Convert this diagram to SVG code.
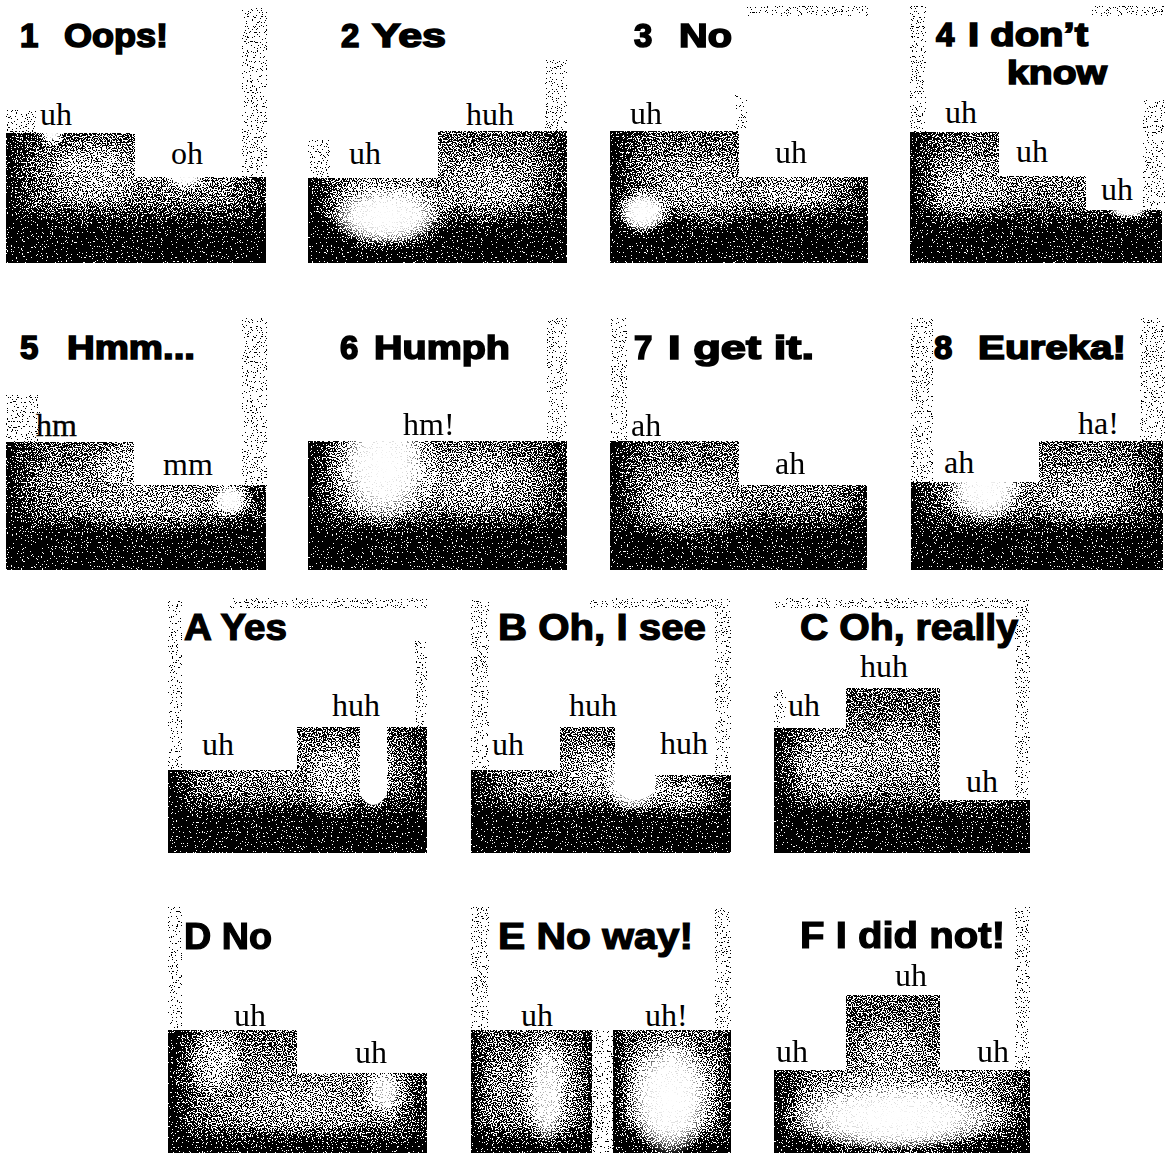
<svg xmlns="http://www.w3.org/2000/svg" width="1165" height="1153" viewBox="0 0 1165 1153">
<style>
.t{font-family:"Liberation Sans",Arial,sans-serif;font-weight:bold;font-size:33px;fill:#000;stroke:#000;stroke-width:1.6px}
.tc{font-family:"Liberation Sans",Arial,sans-serif;font-weight:bold;font-size:36px;fill:#000;stroke:#000;stroke-width:1.2px}
.l{font-family:"Liberation Serif","Times New Roman",serif;font-size:32px;fill:#000}
.b{fill:url(#shade)}
.b2{fill:url(#shade2)}
.e{fill:url(#edges)}
.s{fill:#eaeaea}
.g{fill:url(#glow)}
</style>
<defs>
<filter id="grain" x="0" y="0" width="1" height="1" color-interpolation-filters="sRGB">
<feTurbulence type="fractalNoise" baseFrequency="0.8" numOctaves="1" seed="7" result="n"/>
<feColorMatrix in="n" type="matrix" values="1 0 0 0 0 1 0 0 0 0 1 0 0 0 0 0 0 0 0 1" result="g"/>
<feComposite in="SourceGraphic" in2="g" operator="arithmetic" k1="0" k2="1" k3="3" k4="-1.5" result="m"/>
<feComponentTransfer in="m" result="d">
<feFuncR type="discrete" tableValues="0 1"/>
<feFuncG type="discrete" tableValues="0 1"/>
<feFuncB type="discrete" tableValues="0 1"/>
</feComponentTransfer>
<feComposite in="d" in2="SourceAlpha" operator="in"/>
</filter>
<linearGradient id="shade" x1="0" y1="0" x2="0" y2="1">
<stop offset="0" stop-color="#666"/>
<stop offset="0.28" stop-color="#8c8c8c"/>
<stop offset="0.52" stop-color="#7c7c7c"/>
<stop offset="0.64" stop-color="#3c3c3c"/>
<stop offset="0.73" stop-color="#080808"/>
<stop offset="1" stop-color="#000"/>
</linearGradient>
<linearGradient id="shade2" x1="0" y1="0" x2="0" y2="1">
<stop offset="0" stop-color="#6a6a6a"/>
<stop offset="0.4" stop-color="#8e8e8e"/>
<stop offset="0.76" stop-color="#7a7a7a"/>
<stop offset="0.9" stop-color="#2a2a2a"/>
<stop offset="1" stop-color="#000"/>
</linearGradient>
<linearGradient id="edges" x1="0" y1="0" x2="1" y2="0">
<stop offset="0" stop-color="#000" stop-opacity="0.95"/>
<stop offset="0.04" stop-color="#000" stop-opacity="0.6"/>
<stop offset="0.12" stop-color="#000" stop-opacity="0.15"/>
<stop offset="0.2" stop-color="#000" stop-opacity="0"/>
<stop offset="0.85" stop-color="#000" stop-opacity="0"/>
<stop offset="0.95" stop-color="#000" stop-opacity="0.35"/>
<stop offset="1" stop-color="#000" stop-opacity="0.65"/>
</linearGradient>
<radialGradient id="spot">
<stop offset="0" stop-color="#fff" stop-opacity="1"/>
<stop offset="0.5" stop-color="#fff" stop-opacity="0.75"/>
<stop offset="1" stop-color="#fff" stop-opacity="0"/>
</radialGradient>
<radialGradient id="glow">
<stop offset="0" stop-color="#fff" stop-opacity="1"/>
<stop offset="0.55" stop-color="#fff" stop-opacity="0.85"/>
<stop offset="1" stop-color="#fff" stop-opacity="0"/>
</radialGradient>
<clipPath id="c1"><path d="M6,133H135V177H266V263H6Z"/></clipPath>
<clipPath id="c2"><path d="M308,178H438V131H567V263H308Z"/></clipPath>
<clipPath id="c3"><path d="M610,131H739V177H868V263H610Z"/></clipPath>
<clipPath id="c4"><path d="M910,132H999V176H1086V210H1162V263H910Z"/></clipPath>
<clipPath id="c5"><path d="M6,442H134V485H266V570H6Z"/></clipPath>
<clipPath id="c6"><path d="M308,441H567V570H308Z"/></clipPath>
<clipPath id="c7"><path d="M610,441H739V485H867V570H610Z"/></clipPath>
<clipPath id="c8"><path d="M911,482H1039V441H1163V570H911Z"/></clipPath>
<clipPath id="cA"><path d="M168,770H297V727H360V795Q373,815 387,795V727H427V853H168Z"/></clipPath>
<clipPath id="cB"><path d="M471,770H560V727H615V790Q634,810 655,792V775H731V853H471Z"/></clipPath>
<clipPath id="cC"><path d="M774,728H846V688H940V800H1030V853H774Z"/></clipPath>
<clipPath id="cD"><path d="M168,1030H297V1073H427V1153H168Z"/></clipPath>
<clipPath id="cE"><path d="M471,1030H592V1153H471ZM613,1030H731V1153H613Z"/></clipPath>
<clipPath id="cF"><path d="M774,1070H846V995H940V1070H1030V1153H774Z"/></clipPath>
</defs>
<rect width="1165" height="1153" fill="#fff"/>

<g id="panel-1">
<g filter="url(#grain)">
<rect class="s" x="242" y="8" width="25" height="170"/>
<rect class="s" x="6" y="110" width="30" height="23"/>
<g clip-path="url(#c1)">
<rect class="b" x="6" y="133" width="260" height="130"/>
<rect class="e" x="6" y="133" width="260" height="130"/>
<ellipse fill="url(#spot)" opacity="0.45" cx="95" cy="172" rx="48" ry="38"/>
<ellipse fill="url(#spot)" opacity="0.85" cx="186" cy="180" rx="22" ry="11"/>
<ellipse fill="url(#spot)" opacity="0.85" cx="52" cy="136" rx="14" ry="10"/>
</g>
</g>
<g clip-path="url(#c1)">
<ellipse class="g" cx="186" cy="178" rx="16" ry="8"/>
<ellipse class="g" cx="52" cy="134" rx="9" ry="7"/>
</g>
<text class="t"><tspan x="20" y="47">1 </tspan><tspan x="64" y="47" textLength="104" lengthAdjust="spacingAndGlyphs">Oops!</tspan></text>
<text class="l" x="40" y="125">uh</text>
<text class="l" x="171" y="164">oh</text>
</g>

<g id="panel-2">
<g filter="url(#grain)">
<rect class="s" x="545" y="60" width="22" height="72"/>
<rect class="s" x="308" y="140" width="22" height="38"/>
<g clip-path="url(#c2)">
<rect class="b" x="308" y="131" width="259" height="132"/>
<rect class="e" x="308" y="131" width="259" height="132"/>
<ellipse fill="url(#spot)" cx="388" cy="214" rx="68" ry="40"/>
<ellipse fill="url(#spot)" opacity="0.3" cx="485" cy="195" rx="50" ry="40"/>
</g>
</g>
<g clip-path="url(#c2)">
<ellipse class="g" cx="386" cy="216" rx="54" ry="28"/>
</g>
<text class="t"><tspan x="341" y="47">2 </tspan><tspan x="372" y="47" textLength="74" lengthAdjust="spacingAndGlyphs">Yes</tspan></text>
<text class="l" x="349" y="164">uh</text>
<text class="l" x="466" y="125">huh</text>
</g>

<g id="panel-3">
<g filter="url(#grain)">
<rect class="s" x="745" y="6" width="123" height="10"/>
<rect class="s" x="735" y="95" width="12" height="36"/>
<g clip-path="url(#c3)">
<rect class="b" x="610" y="131" width="258" height="132"/>
<rect class="e" x="610" y="131" width="258" height="132"/>
<ellipse fill="url(#spot)" opacity="0.95" cx="643" cy="212" rx="30" ry="26"/>
<ellipse fill="url(#spot)" opacity="0.3" cx="705" cy="198" rx="55" ry="40"/>
<ellipse fill="url(#spot)" opacity="0.35" cx="790" cy="195" rx="45" ry="20"/>
</g>
</g>
<g clip-path="url(#c3)">
<ellipse class="g" cx="643" cy="212" rx="22" ry="19"/>
</g>
<text class="t"><tspan x="634" y="47">3 </tspan><tspan x="679" y="47" textLength="53" lengthAdjust="spacingAndGlyphs">No</tspan></text>
<text class="l" x="630" y="124">uh</text>
<text class="l" x="775" y="163">uh</text>
</g>

<g id="panel-4">
<g filter="url(#grain)">
<rect class="s" x="910" y="6" width="16" height="126"/>
<rect class="s" x="1090" y="6" width="75" height="10"/>
<rect class="s" x="1143" y="100" width="22" height="110"/>
<g clip-path="url(#c4)">
<rect class="b" x="910" y="132" width="252" height="131"/>
<rect class="e" x="910" y="132" width="252" height="131"/>
<ellipse fill="url(#spot)" opacity="0.3" cx="965" cy="192" rx="50" ry="40"/>
<ellipse fill="url(#spot)" opacity="0.6" cx="1130" cy="213" rx="25" ry="8"/>
</g>
</g>
<g clip-path="url(#c4)">
<ellipse class="g" cx="1128" cy="211" rx="18" ry="6"/>
</g>
<text class="t"><tspan x="936" y="46">4 </tspan><tspan x="968" y="46" textLength="120" lengthAdjust="spacingAndGlyphs">I don’t</tspan></text>
<text class="t" x="1007" y="84" textLength="100" lengthAdjust="spacingAndGlyphs">know</text>
<text class="l" x="945" y="123">uh</text>
<text class="l" x="1016" y="162">uh</text>
<text class="l" x="1101" y="200">uh</text>
</g>

<g id="panel-5">
<g filter="url(#grain)">
<rect class="s" x="242" y="318" width="25" height="168"/>
<rect class="s" x="6" y="395" width="34" height="47"/>
<g clip-path="url(#c5)">
<rect class="b" x="6" y="442" width="260" height="128"/>
<rect class="e" x="6" y="442" width="260" height="128"/>
<ellipse fill="url(#spot)" opacity="0.95" cx="230" cy="500" rx="22" ry="20"/>
<ellipse fill="url(#spot)" opacity="0.5" cx="128" cy="466" rx="40" ry="28"/>
<ellipse fill="url(#spot)" opacity="0.3" cx="150" cy="508" rx="85" ry="30"/>
</g>
</g>
<g clip-path="url(#c5)">
<ellipse class="g" cx="230" cy="500" rx="15" ry="14"/>
</g>
<text class="t"><tspan x="20" y="359">5 </tspan><tspan x="67" y="359" textLength="128" lengthAdjust="spacingAndGlyphs">Hmm...</tspan></text>
<text class="l" x="36" y="436" stroke="#000" stroke-width="0.4">hm</text>
<text class="l" x="163" y="475">mm</text>
</g>

<g id="panel-6">
<g filter="url(#grain)">
<rect class="s" x="547" y="318" width="20" height="123"/>
<g clip-path="url(#c6)">
<rect class="b" x="308" y="441" width="259" height="129"/>
<rect class="e" x="308" y="441" width="259" height="129"/>
<ellipse fill="url(#spot)" cx="384" cy="465" rx="60" ry="68"/>
<ellipse fill="url(#spot)" opacity="0.3" cx="470" cy="480" rx="60" ry="40"/>
</g>
</g>
<g clip-path="url(#c6)">
<ellipse class="g" cx="384" cy="465" rx="42" ry="56"/>
</g>
<text class="t"><tspan x="340" y="359">6 </tspan><tspan x="374" y="359" textLength="136" lengthAdjust="spacingAndGlyphs">Humph</tspan></text>
<text class="l" x="403" y="435">hm!</text>
</g>

<g id="panel-7">
<g filter="url(#grain)">
<rect class="s" x="611" y="318" width="16" height="123"/>
<g clip-path="url(#c7)">
<rect class="b" x="610" y="441" width="257" height="129"/>
<rect class="e" x="610" y="441" width="257" height="129"/>
<ellipse fill="url(#spot)" opacity="0.35" cx="690" cy="512" rx="60" ry="40"/>
</g>
</g>
<text class="t"><tspan x="634" y="359">7 </tspan><tspan x="668" y="359" textLength="146" lengthAdjust="spacingAndGlyphs">I get it.</tspan></text>
<text class="l" x="631" y="436">ah</text>
<text class="l" x="775" y="474">ah</text>
</g>

<g id="panel-8">
<g filter="url(#grain)">
<rect class="s" x="911" y="318" width="22" height="164"/>
<rect class="s" x="1140" y="318" width="25" height="123"/>
<g clip-path="url(#c8)">
<rect class="b" x="911" y="441" width="252" height="129"/>
<rect class="e" x="911" y="441" width="252" height="129"/>
<ellipse fill="url(#spot)" cx="985" cy="490" rx="42" ry="36"/>
<ellipse fill="url(#spot)" opacity="0.3" cx="1080" cy="500" rx="50" ry="30"/>
</g>
</g>
<g clip-path="url(#c8)">
<ellipse class="g" cx="985" cy="488" rx="34" ry="32"/>
</g>
<text class="t"><tspan x="934" y="359">8 </tspan><tspan x="978" y="359" textLength="148" lengthAdjust="spacingAndGlyphs">Eureka!</tspan></text>
<text class="l" x="944" y="473">ah</text>
<text class="l" x="1078" y="434">ha!</text>
</g>

<g id="panel-A">
<g filter="url(#grain)">
<rect class="s" x="168" y="600" width="14" height="170"/>
<rect class="s" x="230" y="598" width="197" height="10"/>
<rect class="s" x="415" y="640" width="12" height="87"/>
<g clip-path="url(#cA)">
<rect class="b" x="168" y="727" width="259" height="126"/>
<rect class="e" x="168" y="727" width="259" height="126"/>
<ellipse fill="url(#spot)" cx="374" cy="768" rx="18" ry="48"/>
<ellipse fill="url(#spot)" opacity="0.45" cx="335" cy="780" rx="30" ry="45"/>
</g>
</g>
<g clip-path="url(#cA)">
<ellipse class="g" cx="374" cy="765" rx="13" ry="42"/>
</g>
<text class="tc" x="184" y="640" textLength="103" lengthAdjust="spacingAndGlyphs">A Yes</text>
<text class="l" x="332" y="716">huh</text>
<text class="l" x="202" y="755">uh</text>
</g>

<g id="panel-B">
<g filter="url(#grain)">
<rect class="s" x="471" y="600" width="18" height="170"/>
<rect class="s" x="715" y="600" width="16" height="175"/>
<rect class="s" x="590" y="598" width="141" height="10"/>
<g clip-path="url(#cB)">
<rect class="b" x="471" y="727" width="260" height="126"/>
<rect class="e" x="471" y="727" width="260" height="126"/>
<ellipse fill="url(#spot)" cx="634" cy="782" rx="34" ry="36"/>
<ellipse fill="url(#spot)" opacity="0.3" cx="592" cy="775" rx="40" ry="35"/>
<ellipse fill="url(#spot)" opacity="0.4" cx="685" cy="800" rx="40" ry="20"/>
</g>
</g>
<g clip-path="url(#cB)">
<ellipse class="g" cx="633" cy="782" rx="26" ry="28"/>
</g>
<text class="tc" x="498" y="640" textLength="208" lengthAdjust="spacingAndGlyphs">B Oh, I see</text>
<text class="l" x="569" y="716">huh</text>
<text class="l" x="492" y="755">uh</text>
<text class="l" x="660" y="754">huh</text>
</g>

<g id="panel-C">
<g filter="url(#grain)">
<rect class="s" x="1015" y="600" width="15" height="200"/>
<rect class="s" x="774" y="598" width="241" height="10"/>
<rect class="s" x="774" y="690" width="12" height="38"/>
<g clip-path="url(#cC)">
<rect fill="#666" x="774" y="688" width="256" height="36"/>
<rect class="b" x="774" y="723" width="256" height="130"/>
<rect class="e" x="774" y="688" width="256" height="165"/>
<ellipse fill="url(#spot)" opacity="0.3" cx="832" cy="760" rx="60" ry="50"/>
<ellipse fill="url(#spot)" opacity="0.25" cx="900" cy="745" rx="40" ry="40"/>
</g>
</g>
<text class="tc" x="800" y="640" textLength="218" lengthAdjust="spacingAndGlyphs">C Oh, really</text>
<text class="l" x="860" y="677">huh</text>
<text class="l" x="788" y="716">uh</text>
<text class="l" x="966" y="792">uh</text>
</g>

<g id="panel-D">
<g filter="url(#grain)">
<rect class="s" x="168" y="907" width="14" height="123"/>
<g clip-path="url(#cD)">
<rect class="b2" x="168" y="1030" width="259" height="123"/>
<rect class="e" x="168" y="1030" width="259" height="123"/>
<ellipse fill="url(#spot)" opacity="0.6" cx="215" cy="1060" rx="30" ry="40"/>
<ellipse fill="url(#spot)" opacity="0.75" cx="385" cy="1092" rx="26" ry="30"/>
<ellipse fill="url(#spot)" opacity="0.3" cx="300" cy="1110" rx="80" ry="30"/>
</g>
</g>
<g clip-path="url(#cD)">
<ellipse class="g" opacity="0.7" cx="385" cy="1092" rx="15" ry="20"/>
</g>
<text class="tc" x="184" y="949" textLength="88" lengthAdjust="spacingAndGlyphs">D No</text>
<text class="l" x="234" y="1026">uh</text>
<text class="l" x="355" y="1063">uh</text>
</g>

<g id="panel-E">
<g filter="url(#grain)">
<rect class="s" x="471" y="907" width="18" height="123"/>
<rect class="s" x="715" y="907" width="16" height="123"/>
<rect class="s" x="592" y="1030" width="21" height="123"/>
<g clip-path="url(#cE)">
<rect class="b2" x="471" y="1030" width="121" height="123"/>
<rect class="b2" x="613" y="1030" width="118" height="123"/>
<rect class="e" x="471" y="1030" width="121" height="123"/>
<rect class="e" x="613" y="1030" width="118" height="123"/>
<ellipse fill="url(#spot)" opacity="0.85" cx="547" cy="1090" rx="28" ry="62"/>
<ellipse fill="url(#spot)" cx="670" cy="1095" rx="48" ry="68"/>
</g>
</g>
<g clip-path="url(#cE)">
<ellipse class="g" cx="670" cy="1098" rx="40" ry="58"/>
<ellipse class="g" opacity="0.75" cx="547" cy="1095" rx="17" ry="48"/>
</g>
<text class="tc" x="498" y="949" textLength="195" lengthAdjust="spacingAndGlyphs">E No way!</text>
<text class="l" x="521" y="1026">uh</text>
<text class="l" x="645" y="1026">uh!</text>
</g>

<g id="panel-F">
<g filter="url(#grain)">
<rect class="s" x="1015" y="907" width="15" height="163"/>
<g clip-path="url(#cF)">
<rect fill="#6a6a6a" x="774" y="995" width="256" height="36"/>
<rect class="b2" x="774" y="1030" width="256" height="123"/>
<rect class="e" x="774" y="995" width="256" height="158"/>
<ellipse fill="url(#spot)" cx="895" cy="1115" rx="122" ry="45"/>
<ellipse fill="url(#spot)" opacity="0.3" cx="893" cy="1050" rx="40" ry="40"/>
</g>
</g>
<g clip-path="url(#cF)">
<ellipse class="g" cx="895" cy="1117" rx="102" ry="33"/>
</g>
<text class="tc" x="800" y="948" textLength="205" lengthAdjust="spacingAndGlyphs">F I did not!</text>
<text class="l" x="895" y="986">uh</text>
<text class="l" x="776" y="1062">uh</text>
<text class="l" x="977" y="1062">uh</text>
</g>
</svg>
